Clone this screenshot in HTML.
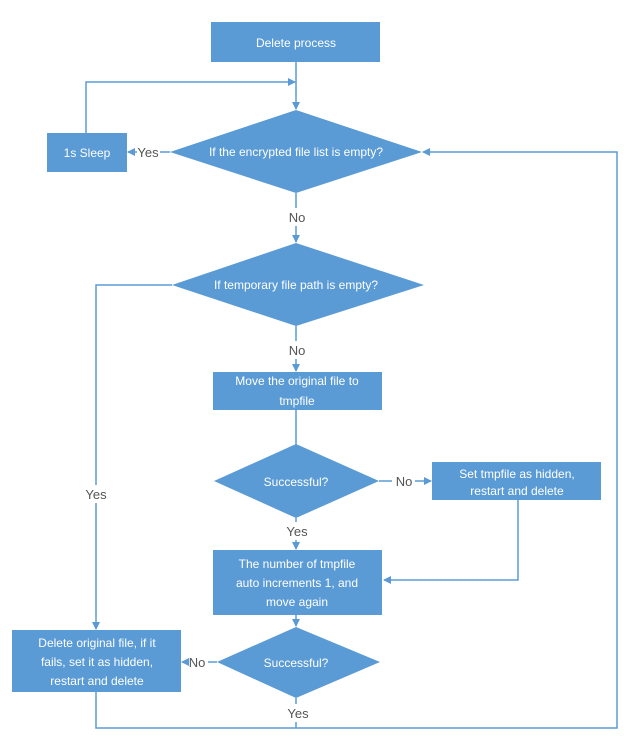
<!DOCTYPE html>
<html><head><meta charset="utf-8"><style>
html,body{margin:0;padding:0;background:#fff;}
svg{display:block;font-family:"Liberation Sans",sans-serif;}
.w{fill:#fff;font-size:12px;text-anchor:middle;}
.l{fill:#555;font-size:13px;text-anchor:middle;}
</style></head><body>
<svg width="632" height="748" viewBox="0 0 632 748">
<defs><marker id="a" markerWidth="8" markerHeight="8" refX="7" refY="4" orient="auto" markerUnits="userSpaceOnUse"><path d="M0,0 L8,4 L0,8 Z" fill="#5b9bd5"/></marker></defs>
<g stroke="#5b9bd5" stroke-width="1.5" fill="none">
<line x1="296" y1="62" x2="296" y2="109" marker-end="url(#a)"/>
<polyline points="86,133 86,82 295,82" marker-end="url(#a)"/>
<line x1="170" y1="152" x2="160" y2="152"/>
<line x1="137" y1="152" x2="128" y2="152" marker-end="url(#a)"/>
<polyline points="296,728 617,728 617,152 423,152" marker-end="url(#a)"/>
<line x1="296" y1="193" x2="296" y2="208"/>
<line x1="296" y1="226" x2="296" y2="242" marker-end="url(#a)"/>
<polyline points="172,285 96,285 96,485"/>
<line x1="96" y1="503" x2="96" y2="629" marker-end="url(#a)"/>
<line x1="296" y1="326" x2="296" y2="341"/>
<line x1="296" y1="359" x2="296" y2="371" marker-end="url(#a)"/>
<line x1="296" y1="410" x2="296" y2="465" marker-end="url(#a)"/>
<line x1="379" y1="481" x2="392" y2="481"/>
<line x1="415" y1="481" x2="431" y2="481" marker-end="url(#a)"/>
<polyline points="518,500 518,580 384,580" marker-end="url(#a)"/>
<line x1="296" y1="518" x2="296" y2="522"/>
<line x1="296" y1="540" x2="296" y2="549" marker-end="url(#a)"/>
<line x1="296" y1="615" x2="296" y2="626" marker-end="url(#a)"/>
<line x1="217" y1="662" x2="208" y2="662"/>
<line x1="186" y1="662" x2="182" y2="662" marker-end="url(#a)"/>
<line x1="296" y1="698" x2="296" y2="704"/>
<line x1="296" y1="722" x2="296" y2="728"/>
<polyline points="96,692 96,728 296,728"/>
</g>
<g fill="#5b9bd5">
<rect x="211" y="22" width="169" height="40"/>
<rect x="47" y="133" width="80" height="39"/>
<polygon points="170,152 296,110 422,152 296,193"/>
<polygon points="172,285 296,243 424,285 296,326"/>
<rect x="213" y="372" width="169" height="38"/>
<polygon points="214,481 296,466 379,481 296,518" style="display:none"/>
<polygon points="214,481 296,444 379,481 296,518"/>
<rect x="432" y="462" width="169" height="38"/>
<rect x="213" y="550" width="169" height="65"/>
<polygon points="217,662 296,627 380,662 296,698"/>
<rect x="12" y="630" width="169" height="62"/>
</g>
<text class="w" x="296" y="47" font-size="15">Delete process</text>
<text class="w" x="87" y="157">1s Sleep</text>
<text class="w" x="296" y="156">If  the encrypted file list is empty?</text>
<text class="w" x="296" y="289">If temporary file path is empty?</text>
<text class="w" x="297" y="385">Move the original file to</text>
<text class="w" x="297" y="405" font-size="15">tmpfile</text>
<text class="w" x="296" y="486">Successful?</text>
<text class="w" x="517" y="478">Set tmpfile as hidden,</text>
<text class="w" x="517" y="495">restart and delete</text>
<text class="w" x="297" y="568">The number of tmpfile</text>
<text class="w" x="297" y="587">auto increments 1, and</text>
<text class="w" x="297" y="606">move again</text>
<text class="w" x="296" y="667">Successful?</text>
<text class="w" x="97" y="647">Delete original file, if it</text>
<text class="w" x="97" y="666">fails, set it as hidden,</text>
<text class="w" x="97" y="685">restart and delete</text>
<text class="l" x="148" y="157">Yes</text>
<text class="l" x="297" y="222">No</text>
<text class="l" x="297" y="355">No</text>
<text class="l" x="96" y="499">Yes</text>
<text class="l" x="404" y="486">No</text>
<text class="l" x="297" y="536">Yes</text>
<text class="l" x="197" y="667">No</text>
<text class="l" x="298" y="718">Yes</text>
</svg>
</body></html>
